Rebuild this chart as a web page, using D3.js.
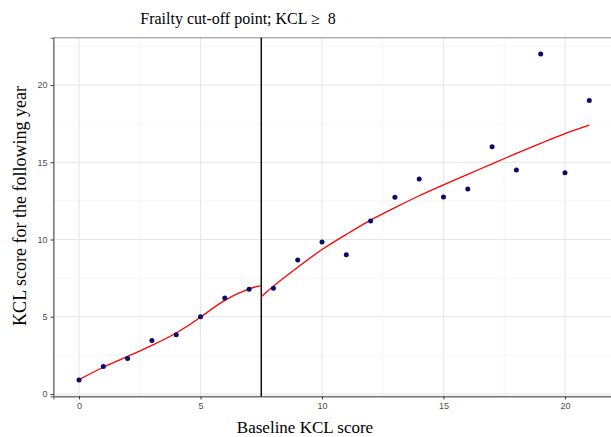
<!DOCTYPE html>
<html>
<head>
<meta charset="utf-8">
<script src="https://cdn.jsdelivr.net/npm/d3@7"></script>
<style>
  body { margin: 0; background: #fff; }
  svg { display: block; }
</style>
</head>
<body>
<svg id="chart" width="611" height="437"></svg>
<script>
// ---- DATA ---- //
const baseline = [0, 1, 2, 3, 4, 5, 6, 7, 8, 9, 10, 11, 12, 13, 14, 15, 16, 17, 18, 19, 20, 21];
const followUp = [0.9, 1.78, 2.3, 3.47, 3.84, 5.0, 6.22, 6.78, 6.84, 8.67, 9.84, 9.02, 11.2, 12.73, 13.92, 12.75, 13.27, 16.0, 14.5, 22.0, 14.32, 19.0];

// smoothed fit, below and above the cut-off
const fitLeftX = [0, 1, 2, 3, 4, 5, 6, 7, 7.5];
const fitLeftY = [0.93, 1.73, 2.43, 3.15, 3.95, 4.97, 6.06, 6.8, 7.02];
const fitRightX = [7.5, 8, 9, 10, 11, 12, 13, 14, 15, 16, 17, 18, 19, 20, 21];
const fitRightY = [6.3, 6.98, 8.2, 9.35, 10.33, 11.25, 12.06, 12.83, 13.54, 14.22, 14.9, 15.57, 16.22, 16.85, 17.4];

const cutOff = 7.5;
const xTicks = [0, 5, 10, 15, 20];
const yTicks = [0, 5, 10, 15, 20];

// ---- THE CHART ---- //
const svg = d3.select("#chart");

const xScale = d3.scaleLinear()
  .domain([-1.05, 22.05])
  .range([53.5, 614.8]);
const yScale = d3.scaleLinear()
  .domain([-0.155, 23.055])
  .range([396.4, 37.8]);

const [x0, x1] = xScale.range();
const [yb, yt] = yScale.range();

// grid lines (minor then major)
const minorX = d3.range(2.5, 22, 5);
const minorY = d3.range(2.5, 23, 5);
const grid = svg.append("g").attr("class", "grid");
grid.selectAll(".minor-x").data(minorX).enter().append("line")
  .attr("x1", d => xScale(d)).attr("x2", d => xScale(d))
  .attr("y1", yb).attr("y2", yt)
  .style("stroke", "#f2f2f2").attr("stroke-width", 0.7);
grid.selectAll(".minor-y").data(minorY).enter().append("line")
  .attr("x1", x0).attr("x2", x1)
  .attr("y1", d => yScale(d)).attr("y2", d => yScale(d))
  .style("stroke", "#f2f2f2").attr("stroke-width", 0.7);
grid.selectAll(".major-x").data(xTicks).enter().append("line")
  .attr("x1", d => xScale(d)).attr("x2", d => xScale(d))
  .attr("y1", yb).attr("y2", yt)
  .style("stroke", "#e6e6e6").attr("stroke-width", 1.1);
grid.selectAll(".major-y").data(yTicks).enter().append("line")
  .attr("x1", x0).attr("x2", x1)
  .attr("y1", d => yScale(d)).attr("y2", d => yScale(d))
  .style("stroke", "#e6e6e6").attr("stroke-width", 1.1);

// panel border
svg.append("rect")
  .attr("x", x0).attr("y", yt)
  .attr("width", x1 - x0).attr("height", yb - yt)
  .style("fill", "none").style("stroke", "#8a8a8a").attr("stroke-width", 1);

// axes
const xAxis = svg.append("g")
  .attr("transform", "translate(0," + yb + ")")
  .call(d3.axisBottom(xScale).tickValues(xTicks).tickSize(3).tickPadding(3));
const yAxis = svg.append("g")
  .attr("transform", "translate(" + x0 + ",0)")
  .call(d3.axisLeft(yScale).tickValues(yTicks).tickSize(3).tickPadding(3));
[xAxis, yAxis].forEach(a => {
  a.select(".domain").style("stroke", "#6e6e6e").attr("stroke-width", 1.1);
  a.selectAll(".tick line").style("stroke", "#333");
  a.selectAll(".tick text")
    .style("fill", "#4d4d4d")
    .style("font-family", "'Liberation Sans', Arial, sans-serif")
    .style("font-size", "9px");
});

// cut-off line
svg.append("line")
  .attr("x1", xScale(cutOff)).attr("x2", xScale(cutOff))
  .attr("y1", yb).attr("y2", yt)
  .style("stroke", "black").attr("stroke-width", 1.4);

// fitted curves
const fitLine = d3.line()
  .x(d => xScale(d[0]))
  .y(d => yScale(d[1]))
  .curve(d3.curveNatural);
[[fitLeftX, fitLeftY], [fitRightX, fitRightY]].forEach(([xs, ys]) => {
  svg.append("path")
    .attr("d", fitLine(d3.zip(xs, ys)))
    .style("fill", "none")
    .style("stroke", "red")
    .attr("stroke-width", 1.3);
});

// points
svg.selectAll("circle.pt")
  .data(d3.zip(baseline, followUp))
  .enter().append("circle")
    .attr("class", "pt")
    .attr("cx", d => xScale(d[0]))
    .attr("cy", d => yScale(d[1]))
    .attr("r", 2.5)
    .style("fill", "#0b0b6b");

// titles
const serif = "'Liberation Serif', 'Times New Roman', serif";
svg.append("text")
  .attr("x", 238).attr("y", 24)
  .attr("text-anchor", "middle")
  .style("font-family", serif).style("font-size", "16px")
  .style("white-space", "pre")
  .text("Frailty cut-off point; KCL \u2265  8");
svg.append("text")
  .attr("x", 305).attr("y", 433)
  .attr("text-anchor", "middle")
  .style("font-family", serif).style("font-size", "17px")
  .text("Baseline KCL score");
svg.append("text")
  .attr("transform", "translate(26,206) rotate(-90)")
  .attr("text-anchor", "middle")
  .style("font-family", serif).style("font-size", "18px")
  .text("KCL score for the following year");
</script>
</body>
</html>
